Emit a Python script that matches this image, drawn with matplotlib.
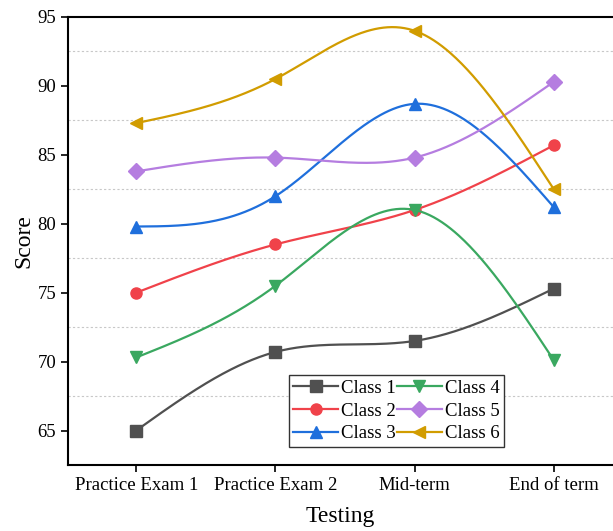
import numpy as np
import matplotlib.pyplot as plt

plt.rcParams['font.family'] = ['Liberation Serif', 'DejaVu Serif']

tests = ['Practice Exam 1', 'Practice Exam 2', 'Mid-term', 'End of term']
class1 = [65.0, 70.7, 71.5, 75.3]
class2 = [75.0, 78.5, 81.0, 85.7]
class3 = [79.8, 82.0, 88.7, 81.2]
class4 = [70.3, 75.5, 81.0, 70.1]
class5 = [83.8, 84.8, 84.8, 90.3]
class6 = [87.3, 90.5, 94.0, 82.5]

names = ['Class 1', 'Class 2', 'Class 3', 'Class 4', 'Class 5', 'Class 6']
colors = ['#505050', '#f0424a', '#1f6fdc', '#3aa860', '#b57de0', '#d19c00']
markers = ['s', 'o', '^', 'v', 'D', '<']


def natural_spline(x, y, xs):
    x = np.asarray(x, float)
    y = np.asarray(y, float)
    n = len(x)
    h = np.diff(x)
    A = np.zeros((n, n))
    b = np.zeros(n)
    A[0, 0] = 1
    A[-1, -1] = 1
    for i in range(1, n - 1):
        A[i, i - 1] = h[i - 1]
        A[i, i] = 2 * (h[i - 1] + h[i])
        A[i, i + 1] = h[i]
        b[i] = 6 * ((y[i + 1] - y[i]) / h[i] - (y[i] - y[i - 1]) / h[i - 1])
    M = np.linalg.solve(A, b)
    idx = np.clip(np.searchsorted(x, xs) - 1, 0, n - 2)
    x0, x1 = x[idx], x[idx + 1]
    hh = x1 - x0
    return (M[idx] * (x1 - xs) ** 3 / (6 * hh) + M[idx + 1] * (xs - x0) ** 3 / (6 * hh)
            + (y[idx] / hh - M[idx] * hh / 6) * (x1 - xs)
            + (y[idx + 1] / hh - M[idx + 1] * hh / 6) * (xs - x0))


fig = plt.figure(figsize=(6.13, 5.31), dpi=100)
ax = fig.add_axes([68 / 613, 66 / 531, 1 - 68 / 613, 448 / 531])

x = np.arange(len(tests))
xs = np.linspace(0, 3, 300)
for vals, name, c, m in zip([class1, class2, class3, class4, class5, class6], names, colors, markers):
    ax.plot(xs, natural_spline(x, vals, xs), color=c, lw=1.6)
    ax.plot(x, vals, color=c, lw=1.6, marker=m, markersize=8, linestyle='none')
    ax.plot([], [], color=c, lw=1.6, marker=m, markersize=8, label=name)

ax.set_xlim(-0.49, 3.425)
ax.set_ylim(62.5, 95)
ax.set_xticks(x)
ax.set_xticklabels(tests)
ax.set_yticks([65, 70, 75, 80, 85, 90, 95])
ax.set_yticks([67.5, 72.5, 77.5, 82.5, 87.5, 92.5], minor=True)
ax.tick_params(axis='y', which='minor', length=0)
ax.tick_params(axis='both', which='major', labelsize=13.5, direction='out', length=5, width=1.2)
ax.grid(True, which='minor', axis='y', linestyle=(0, (2, 2)), color='#c8c8c8', lw=0.8)
ax.spines['right'].set_visible(False)
for s in ['left', 'bottom', 'top']:
    ax.spines[s].set_linewidth(1.5)

ax.set_xlabel('Testing', fontsize=17, labelpad=9)
ax.set_ylabel('Score', fontsize=17, labelpad=2)

leg = ax.legend(ncol=2, loc='lower left', bbox_to_anchor=(0.405, 0.04), fontsize=13.5,
                frameon=True, fancybox=False, edgecolor='#333333', framealpha=1,
                handlelength=2.4, handletextpad=0.15, columnspacing=0.05,
                labelspacing=0.3, borderpad=0.25, borderaxespad=0)
leg.get_frame().set_linewidth(1.0)

plt.savefig('out.png', dpi=100)
